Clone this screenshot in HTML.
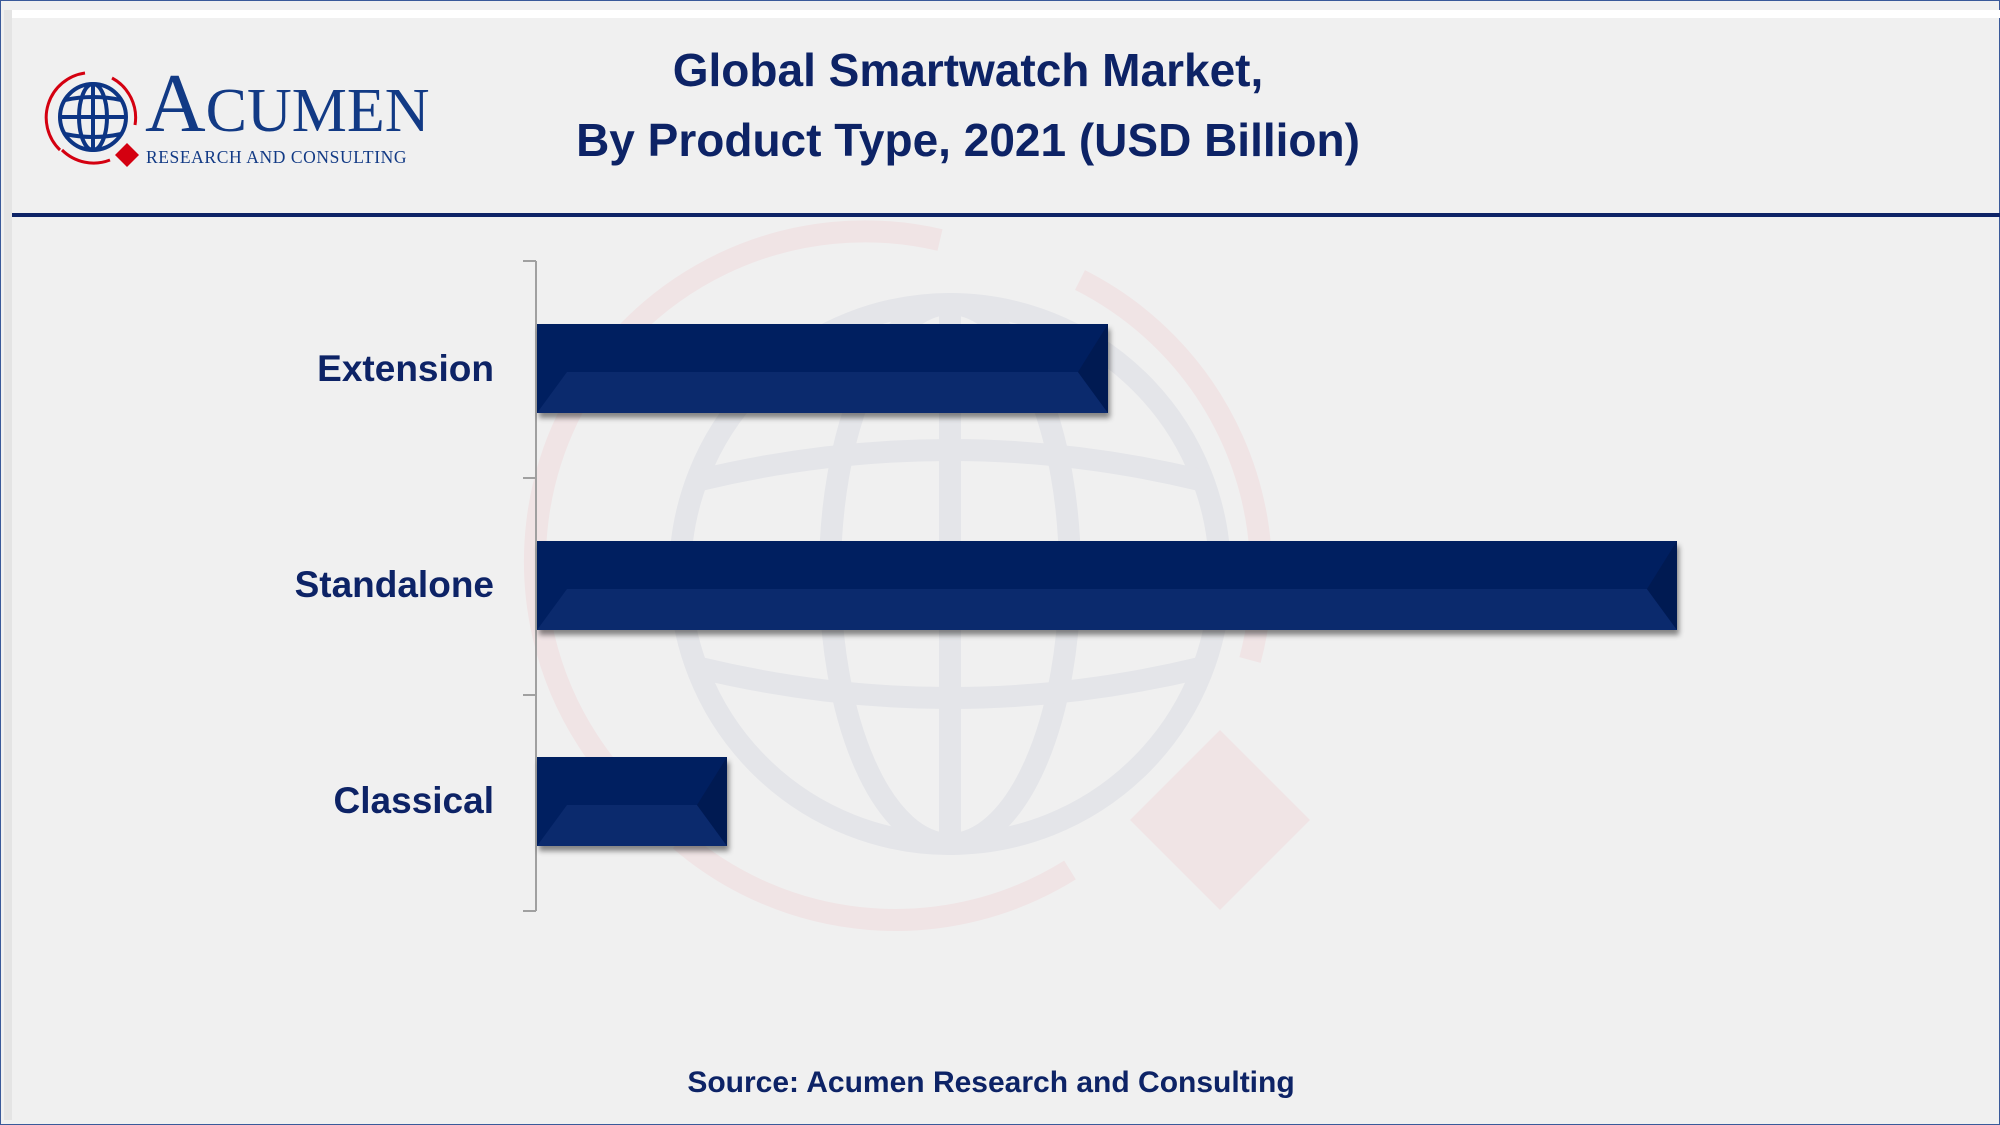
<!DOCTYPE html>
<html><head><meta charset="utf-8"><style>
body{margin:0;width:2000px;height:1125px;overflow:hidden;background:#f0f0f0;font-family:"Liberation Sans",sans-serif;}
.t{position:absolute;color:#0d2366;font-weight:bold;white-space:nowrap}
.lbl{position:absolute;right:1506px;color:#0d2366;font-weight:bold;font-size:37px;transform:translateY(-50%)}
.bar{position:absolute;left:537px;height:89px;background:#001f60;box-shadow:2px 5px 5px rgba(0,0,0,0.45)}
.bar .lo{position:absolute;left:0;right:0;top:48px;bottom:0;background:#0b2a6d;clip-path:polygon(30px 0,calc(100% - 30px) 0,100% 100%,0 100%)}
.bar .rt{position:absolute;right:0;top:0;bottom:0;width:30px;background:#001a52;clip-path:polygon(100% 0,100% 100%,0 54%)}
</style></head><body>
<div style="position:absolute;left:0;top:0;width:1998px;height:1123px;border:1px solid #3a5a9a"></div>
<div style="position:absolute;left:10px;top:10px;width:1990px;height:8px;background:#fff"></div>
<div style="position:absolute;left:4px;top:10px;width:8px;height:1110px;background:#e4e4e4"></div>
<div style="position:absolute;left:12px;top:213px;width:1988px;height:4px;background:#0d2366"></div>
<svg style="position:absolute;left:0;top:0" width="2000" height="1125">
<g fill="none" stroke="#e4e5e9" stroke-width="22">
<circle cx="950" cy="574" r="270"/>
<ellipse cx="950" cy="574" rx="120" ry="270"/>
<line x1="950" y1="304" x2="950" y2="844"/>
<path d="M700 480 Q950 420 1200 480 M680 574 L1220 574 M700 668 Q950 728 1200 668"/>
</g>
<g fill="none" stroke="#f0e4e5" stroke-width="22">
<path d="M660 820 A330 330 0 0 1 940 240"/>
<path d="M1080 280 A330 330 0 0 1 1250 660"/>
<path d="M680 840 A330 330 0 0 0 1070 870"/>
</g>
<polygon points="1220,730 1310,820 1220,910 1130,820" fill="#f0e4e5"/>
<g fill="none" stroke="#0d3584" stroke-width="4">
<circle cx="93" cy="117" r="33"/><ellipse cx="93" cy="117" rx="14" ry="33"/>
<line x1="93" y1="84" x2="93" y2="150"/><line x1="60" y1="117" x2="126" y2="117"/>
<path d="M65 100 Q93 94 121 100 M65 134 Q93 140 121 134"/></g>
<g fill="none" stroke="#d40010" stroke-width="3">
<path d="M60 150 A45 45 0 0 1 85 73"/><path d="M112 78 A45 45 0 0 1 135 125"/><path d="M62 150 A45 45 0 0 0 110 160"/></g>
<polygon points="127,143 139,155 127,167 115,155" fill="#d40010"/>
<g stroke="#a0a0a0" stroke-width="2"><line x1="536" y1="261" x2="536" y2="911"/>
<line x1="523" y1="261" x2="536" y2="261"/><line x1="523" y1="478" x2="536" y2="478"/><line x1="523" y1="695" x2="536" y2="695"/><line x1="523" y1="911" x2="536" y2="911"/></g>
</svg>
<div class="t" style="left:145px;top:62px;font-family:'Liberation Serif',serif;font-size:84px;font-weight:normal;color:#123a85;line-height:84px">A<span style="font-size:62px">CUMEN</span></div>
<div class="t" style="left:146px;top:147px;font-family:'Liberation Serif',serif;font-size:17.5px;font-weight:normal;color:#123a85;letter-spacing:0.6px">RESEARCH AND CONSULTING</div>
<div class="t" style="left:0;width:1936px;text-align:center;top:35px;font-size:46px;line-height:70px">Global Smartwatch Market,<br>By Product Type, 2021 (USD Billion)</div>
<div class="lbl" style="top:369px">Extension</div>
<div class="lbl" style="top:585px">Standalone</div>
<div class="lbl" style="top:801px">Classical</div>
<div class="bar" style="top:324px;width:571px"><div class="lo"></div><div class="rt"></div></div>
<div class="bar" style="top:541px;width:1140px"><div class="lo"></div><div class="rt"></div></div>
<div class="bar" style="top:757px;width:190px"><div class="lo"></div><div class="rt"></div></div>
<div class="t" style="left:0;width:1982px;text-align:center;top:1066px;font-size:30px">Source: Acumen Research and Consulting</div>
</body></html>
